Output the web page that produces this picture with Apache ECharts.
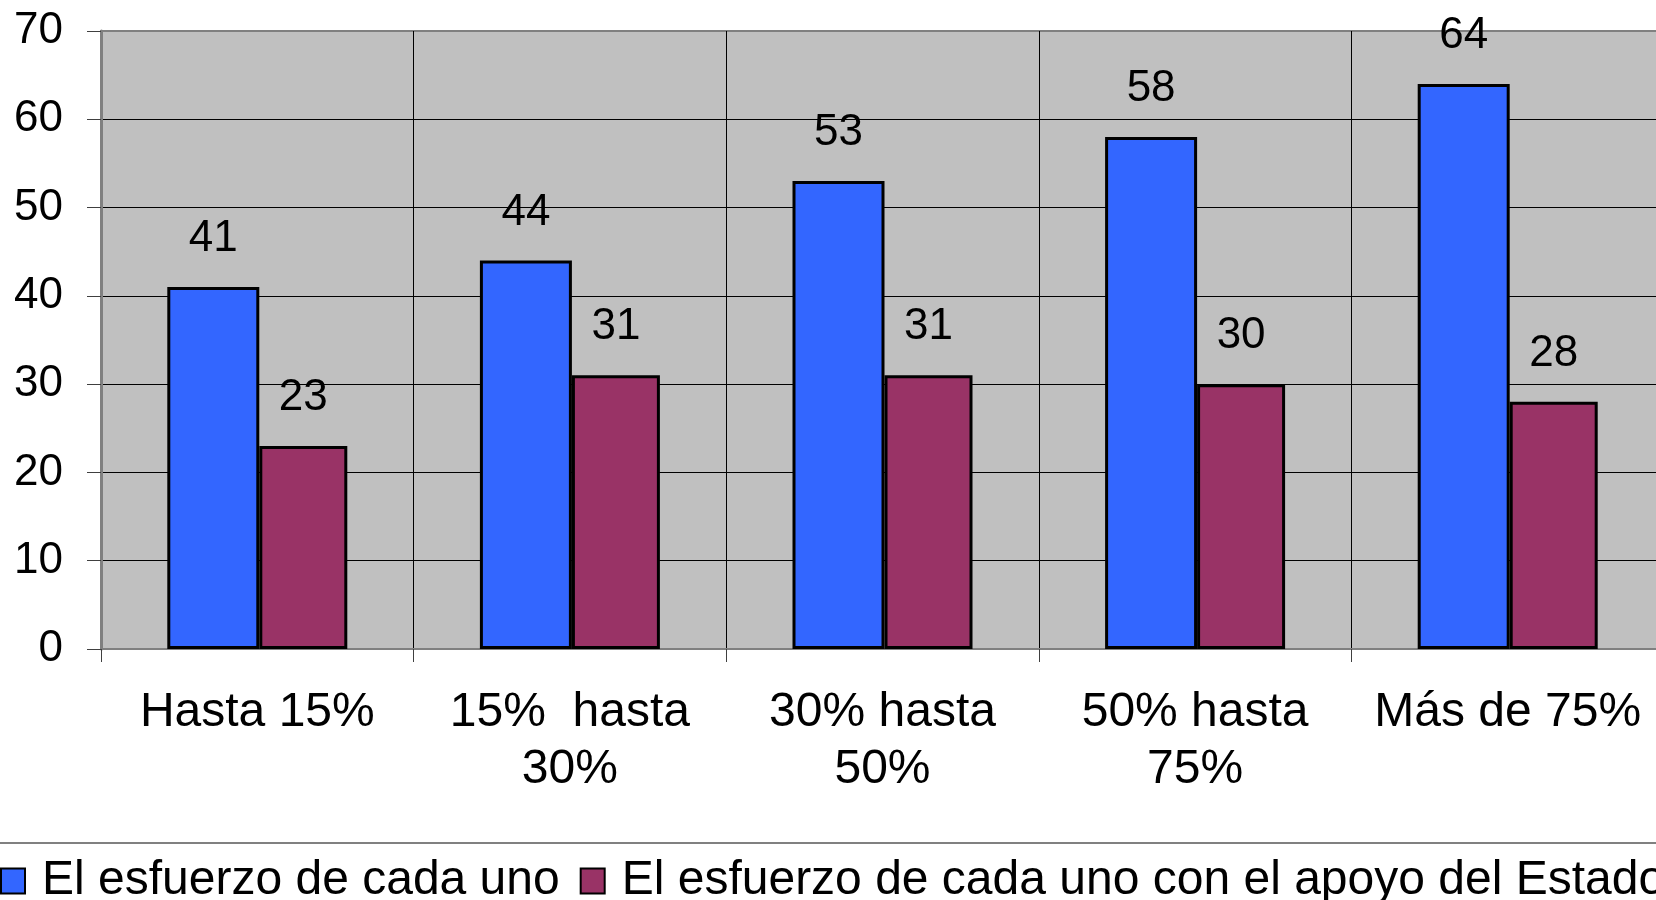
<!DOCTYPE html>
<html>
<head>
<meta charset="utf-8">
<style>
html,body{margin:0;padding:0;background:#fff;}
#chart{width:1656px;height:900px;}
</style>
<script src="https://cdn.jsdelivr.net/npm/echarts@6/dist/echarts.min.js"></script>
</head>
<body>
<div id="chart"></div>
<script>
const categories = ['Hasta 15%', '15%  hasta\n30%', '30% hasta\n50%', '50% hasta\n75%', 'Más de 75%'];
const seriesNames = ['El esfuerzo de cada uno', 'El esfuerzo de cada uno con el apoyo del Estado'];
const esfuerzo = [41, 44, 53, 58, 64];
const esfuerzoEstado = [23, 31, 31, 30, 28];
const yTicks = [0, 10, 20, 30, 40, 50, 60, 70];

const FONT = '"Liberation Sans", Arial, sans-serif';
const chart = echarts.init(document.getElementById('chart'));
chart.setOption({
  backgroundColor: '#ffffff',
  animation: false,
  textStyle: { fontFamily: FONT },
  grid: {
    left: 101, top: 31, bottom: 251, width: 1563,
    outerBoundsMode: 'none', containLabel: false,
    show: true, backgroundColor: '#C0C0C0', borderColor: '#808080', borderWidth: 2
  },
  legend: {
    left: 0, top: 857, width: 1900, padding: 0, itemGap: 20,
    itemWidth: 24, itemHeight: 25, icon: 'rect',
    textStyle: { fontSize: 48, color: '#000', fontFamily: FONT, padding: [0, 0, 0, 12] },
    data: seriesNames
  },
  graphic: [{
    type: 'line', shape: { x1: 0, y1: 843, x2: 1656, y2: 843 },
    style: { stroke: '#808080', lineWidth: 2 }, z: 10
  }],
  xAxis: {
    type: 'category',
    data: categories,
    axisLine: { show: true, lineStyle: { color: '#808080', width: 2 } },
    axisTick: { show: true, length: 13, interval: 0, lineStyle: { color: '#404040', width: 1 } },
    splitLine: { show: true, showMinLine: false, showMaxLine: false, interval: 0, lineStyle: { color: '#000', width: 1 } },
    axisLabel: { interval: 0, fontSize: 48, color: '#000', lineHeight: 57, margin: 35, fontFamily: FONT }
  },
  yAxis: {
    type: 'value',
    min: yTicks[0], max: yTicks[yTicks.length - 1], interval: 10,
    axisLine: { show: true, lineStyle: { color: '#808080', width: 3 } },
    axisTick: { show: true, length: 14, lineStyle: { color: '#404040', width: 1 } },
    splitLine: { show: true, showMinLine: false, showMaxLine: false, lineStyle: { color: '#000', width: 1 } },
    axisLabel: { fontSize: 44, color: '#000', margin: 38, fontFamily: FONT }
  },
  series: [
    {
      name: seriesNames[0], type: 'bar', data: esfuerzo,
      barWidth: 92, barGap: '0%',
      itemStyle: { color: '#3366FF', borderColor: '#000', borderWidth: 3 },
      label: { show: true, position: 'top', distance: 26, fontSize: 44, color: '#000', fontFamily: FONT }
    },
    {
      name: seriesNames[1], type: 'bar', data: esfuerzoEstado,
      barWidth: 88, barGap: '0%',
      itemStyle: { color: '#993366', borderColor: '#000', borderWidth: 3 },
      label: { show: true, position: 'top', distance: 26, fontSize: 44, color: '#000', fontFamily: FONT }
    }
  ]
});
</script>
</body>
</html>
